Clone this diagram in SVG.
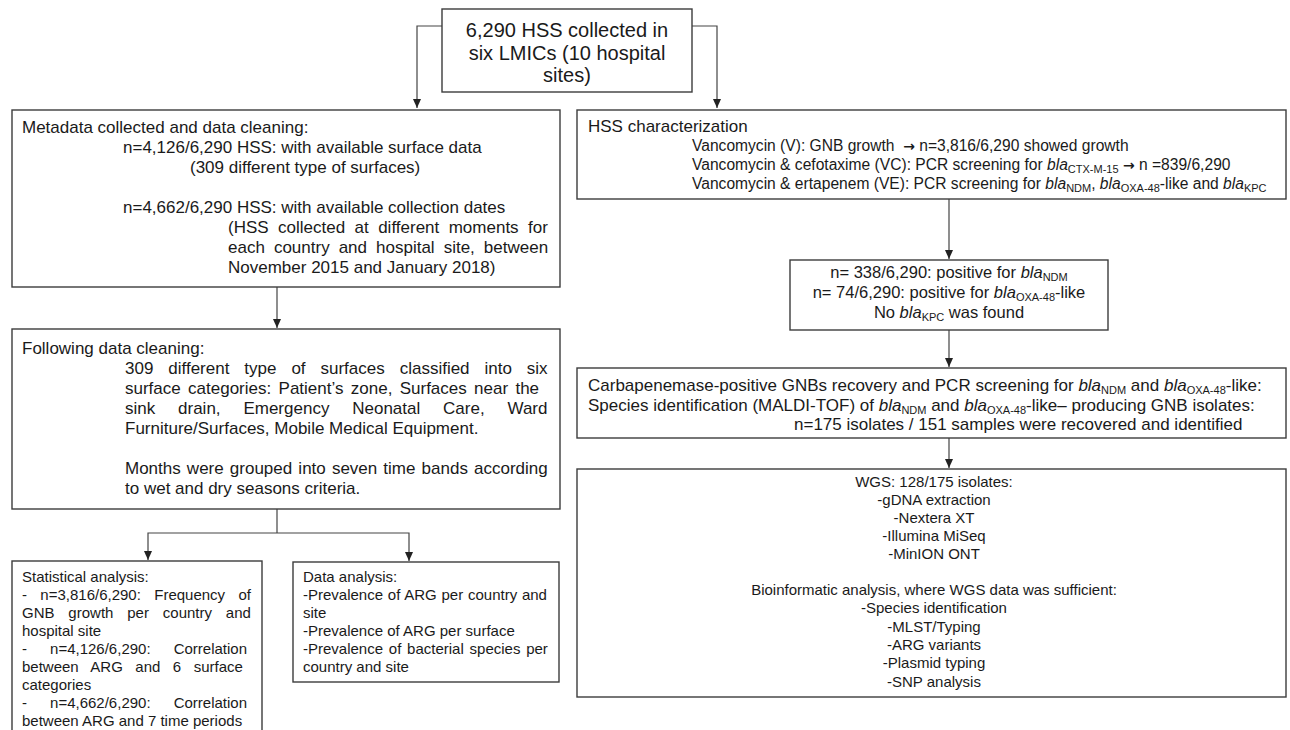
<svg xmlns="http://www.w3.org/2000/svg" width="1290" height="730" viewBox="0 0 1290 730">
<defs>
<style>
text{font-family:"Liberation Sans",Arial,sans-serif;fill:#1a1a1a}
.box{fill:#fff;stroke:#3c3c3c;stroke-width:1.4}
.con{fill:none;stroke:#444;stroke-width:1.2}
.f20{font-size:20px}
.f17{font-size:17px}
.f165{font-size:16.5px}
.f155{font-size:15.6px}
.f15{font-size:15px}
.c{text-anchor:middle}
.i{font-style:italic}
.sub{font-size:11px}
.arr{font-family:"DejaVu Sans",sans-serif;font-size:14px;font-weight:bold}
</style>
<marker id="ah" markerUnits="userSpaceOnUse" markerWidth="10" markerHeight="8" refX="9" refY="4" orient="auto">
<path d="M0,0 L9,4 L0,8 z" fill="#222"/>
</marker>
</defs>
<rect width="1290" height="730" fill="#fff"/>

<g id="connectors" class="con" marker-end="url(#ah)">
<path d="M442,26 H417 V108"/>
<path d="M692,26 H717 V108"/>
<path d="M277,287 V328"/>
<path d="M277,509 V533" marker-end="none"/>
<path d="M277,533 H148 V560"/>
<path d="M277,533 H409 V561"/>
<path d="M949,199 V259"/>
<path d="M949,330 V367"/>
<path d="M949,438 V468"/>
</g>

<g id="n_top">
<rect class="box" x="442" y="9" width="250" height="83"/>
<text class="f20 c" x="567" y="37">6,290 HSS collected in</text>
<text class="f20 c" x="567" y="59.5">six LMICs (10 hospital</text>
<text class="f20 c" x="567" y="82">sites)</text>
</g>

<g id="n_metadata">
<rect class="box" x="12" y="110" width="548" height="177"/>
<text class="f17" x="22" y="133">Metadata collected and data cleaning:</text>
<text class="f17" x="123" y="153">n=4,126/6,290 HSS: with available surface data</text>
<text class="f17" x="190" y="173">(309 different type of surfaces)</text>
<text class="f17" x="123" y="213">n=4,662/6,290 HSS: with available collection dates</text>
<text class="f17" x="228" y="233" word-spacing="4.7">(HSS collected at different moments for</text>
<text class="f17" x="228" y="253" word-spacing="4.3">each country and hospital site, between</text>
<text class="f17" x="228" y="273">November 2015 and January 2018)</text>
</g>

<g id="n_cleaning">
<rect class="box" x="12" y="329" width="548" height="180"/>
<text class="f17" x="22" y="354">Following data cleaning:</text>
<text class="f17" x="125" y="374" word-spacing="10.2">309 different type of surfaces classified into six</text>
<text class="f17" x="125" y="394" word-spacing="2.6">surface categories: Patient’s zone, Surfaces near the</text>
<text class="f17" x="125" y="414" word-spacing="18.1">sink drain, Emergency Neonatal Care, Ward</text>
<text class="f17" x="125" y="434">Furniture/Surfaces, Mobile Medical Equipment.</text>
<text class="f17" x="125" y="474" word-spacing="1.4">Months were grouped into seven time bands according</text>
<text class="f17" x="125" y="494">to wet and dry seasons criteria.</text>
</g>

<g id="n_stats">
<rect class="box" x="12" y="561" width="250" height="180"/>
<text class="f15" x="22" y="582">Statistical analysis:</text>
<text class="f15" x="22" y="600" word-spacing="9.2">- n=3,816/6,290: Frequency of</text>
<text class="f15" x="22" y="618" word-spacing="9.7">GNB growth per country and</text>
<text class="f15" x="22" y="636">hospital site</text>
<text class="f15" x="22" y="654" word-spacing="18.9">- n=4,126/6,290: Correlation</text>
<text class="f15" x="22" y="672" word-spacing="8.3">between ARG and 6 surface</text>
<text class="f15" x="22" y="690">categories</text>
<text class="f15" x="22" y="708" word-spacing="18.9">- n=4,662/6,290: Correlation</text>
<text class="f15" x="22" y="726">between ARG and 7 time periods</text>
</g>

<g id="n_data">
<rect class="box" x="293" y="562" width="266" height="120"/>
<text class="f15" x="303" y="582">Data analysis:</text>
<text class="f15" x="303" y="600" word-spacing="0.6">-Prevalence of ARG per country and</text>
<text class="f15" x="303" y="618">site</text>
<text class="f15" x="303" y="636">-Prevalence of ARG per surface</text>
<text class="f15" x="303" y="654" word-spacing="1.6">-Prevalence of bacterial species per</text>
<text class="f15" x="303" y="672">country and site</text>
</g>

<g id="n_hss">
<rect class="box" x="577" y="110" width="709" height="89"/>
<text class="f17" x="588" y="132">HSS characterization</text>
<text class="f155" x="692" y="151">Vancomycin (V): GNB growth&#160; <tspan class="arr">→</tspan> n=3,816/6,290 showed growth</text>
<text class="f155" x="692" y="170">Vancomycin &amp; cefotaxime (VC): PCR screening for <tspan class="i">bla</tspan><tspan class="sub" dy="3">CTX-M-15</tspan><tspan dy="-3"> </tspan><tspan class="arr">→</tspan><tspan> n =839/6,290</tspan></text>
<text class="f155" x="692" y="189">Vancomycin &amp; ertapenem (VE): PCR screening for <tspan class="i">bla</tspan><tspan class="sub" dy="3">NDM</tspan><tspan dy="-3">, </tspan><tspan class="i">bla</tspan><tspan class="sub" dy="3">OXA-48</tspan><tspan dy="-3">-like and </tspan><tspan class="i">bla</tspan><tspan class="sub" dy="3">KPC</tspan></text>
</g>

<g id="n_positive">
<rect class="box" x="790" y="260" width="318" height="70"/>
<text class="f165 c" x="949" y="278">n= 338/6,290: positive for <tspan class="i">bla</tspan><tspan class="sub" dy="3">NDM</tspan></text>
<text class="f165 c" x="949" y="298">n= 74/6,290: positive for <tspan class="i">bla</tspan><tspan class="sub" dy="3">OXA-48</tspan><tspan dy="-3">-like</tspan></text>
<text class="f165 c" x="949" y="318">No <tspan class="i">bla</tspan><tspan class="sub" dy="3">KPC</tspan><tspan dy="-3"> was found</tspan></text>
</g>

<g id="n_recovery">
<rect class="box" x="577" y="368" width="709" height="70"/>
<text class="f17" x="588" y="391">Carbapenemase-positive GNBs recovery and PCR screening for <tspan class="i">bla</tspan><tspan class="sub" dy="3">NDM</tspan><tspan dy="-3"> and </tspan><tspan class="i">bla</tspan><tspan class="sub" dy="3">OXA-48</tspan><tspan dy="-3">-like:</tspan></text>
<text class="f17" x="588" y="410.5">Species identification (MALDI-TOF) of <tspan class="i">bla</tspan><tspan class="sub" dy="3">NDM</tspan><tspan dy="-3"> and </tspan><tspan class="i">bla</tspan><tspan class="sub" dy="3">OXA-48</tspan><tspan dy="-3">-like– producing GNB isolates:</tspan></text>
<text class="f17" x="794" y="430">n=175 isolates / 151 samples were recovered and identified</text>
</g>

<g id="n_wgs">
<rect class="box" x="577" y="469" width="709" height="228"/>
<text class="f15 c" x="934" y="487">WGS: 128/175 isolates:</text>
<text class="f15 c" x="934" y="505">-gDNA extraction</text>
<text class="f15 c" x="934" y="523">-Nextera XT</text>
<text class="f15 c" x="934" y="541">-Illumina MiSeq</text>
<text class="f15 c" x="934" y="559">-MinION ONT</text>
<text class="f15 c" x="934" y="595">Bioinformatic analysis, where WGS data was sufficient:</text>
<text class="f15 c" x="934" y="613">-Species identification</text>
<text class="f15 c" x="934" y="632">-MLST/Typing</text>
<text class="f15 c" x="934" y="650">-ARG variants</text>
<text class="f15 c" x="934" y="668">-Plasmid typing</text>
<text class="f15 c" x="934" y="687">-SNP analysis</text>
</g>
</svg>
